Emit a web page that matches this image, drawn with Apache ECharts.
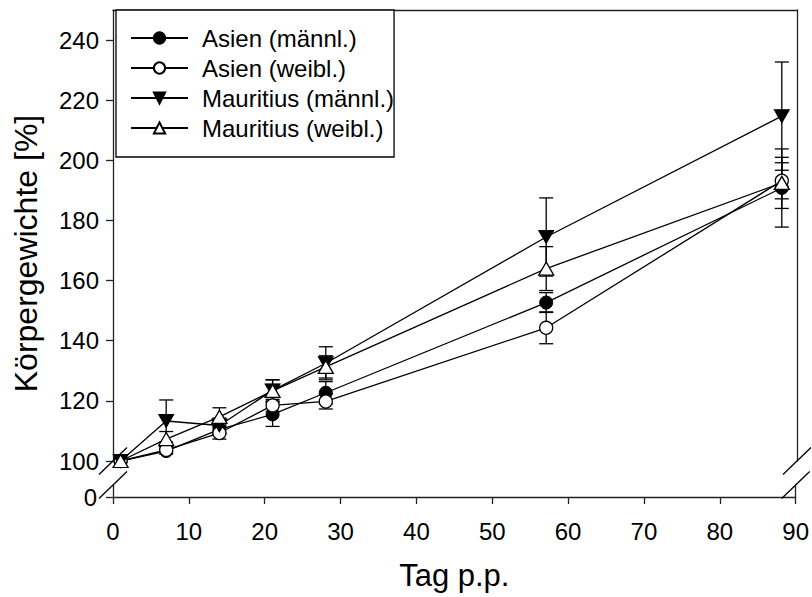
<!DOCTYPE html>
<html><head><meta charset="utf-8">
<script src="https://cdn.jsdelivr.net/npm/echarts@6/dist/echarts.min.js"></script>
<style>html,body{margin:0;padding:0;background:#fff}#c{width:812px;height:597px}</style>
</head><body><div id="c"></div>
<script>
// ---- data ----
const days = [1, 7, 14, 21, 28, 57, 88];
const seriesNames = ['Asien (männl.)', 'Asien (weibl.)', 'Mauritius (männl.)', 'Mauritius (weibl.)'];
const asienM    = [100, 103.3, 110.5, 115.5, 122.7, 152.7, 190.8];
const asienMErr = [0, 1, 1.5, 4, 3.7, 3.3, 13];
const asienW    = [100, 103.7, 109.3, 118.5, 119.8, 144.3, 193.2];
const asienWErr = [0, 1, 2, 2, 2.5, 5.3, 6];
const mauM      = [100, 113.3, 111.8, 123.5, 132.5, 174.5, 214.7];
const mauMErr   = [0, 7, 2.5, 3.5, 5.5, 13, 18];
const mauW      = [100, 107.3, 114.7, 123.3, 131.3, 164, 192.5];
const mauWErr   = [0, 2.5, 3, 3.7, 3.7, 7.3, 8.5];
const yTicksUpper = [100, 120, 140, 160, 180, 200, 220, 240];
const yTicksLower = [0];
const xTitle = 'Tag p.p.';
const yTitle = 'Körpergewichte [%]';

// ---- chart ----
const FONT = '"Liberation Sans", Arial, sans-serif';
const AX = '#222';
const chart = echarts.init(document.getElementById('c'), null, {renderer: 'svg'});

function pts(vals) { return days.map((d, i) => [d, vals[i]]); }
function errData(vals, errs) { return days.map((d, i) => [d, vals[i] - errs[i], vals[i] + errs[i]]); }
function errRender(params, api) {
  const x = api.value(0), lo = api.value(1), hi = api.value(2);
  if (hi - lo < 0.01) return {type: 'group', children: []};
  const a = api.coord([x, lo]), b = api.coord([x, hi]);
  const hw = 7;
  const st = {stroke: '#000', lineWidth: 1.3, fill: null};
  return {type: 'group', children: [
    {type: 'line', shape: {x1: a[0], y1: a[1], x2: b[0], y2: b[1]}, style: st},
    {type: 'line', shape: {x1: a[0] - hw, y1: a[1], x2: a[0] + hw, y2: a[1]}, style: st},
    {type: 'line', shape: {x1: b[0] - hw, y1: b[1], x2: b[0] + hw, y2: b[1]}, style: st}
  ]};
}
const DOWN = 'path://M0,0 L10,0 L5,9 Z';
const lineBase = {type: 'line', xAxisIndex: 0, yAxisIndex: 0, z: 5,
  lineStyle: {color: '#000', width: 1.3}, animation: false};

const series = [
  Object.assign({}, lineBase, {name: seriesNames[0], data: pts(asienM), symbol: 'circle', symbolSize: 13,
    itemStyle: {color: '#000', borderColor: '#000', borderWidth: 1}}),
  Object.assign({}, lineBase, {name: seriesNames[1], data: pts(asienW), symbol: 'circle', symbolSize: 13,
    itemStyle: {color: '#fff', borderColor: '#000', borderWidth: 1.3}}),
  Object.assign({}, lineBase, {name: seriesNames[2], data: pts(mauM), symbol: DOWN, symbolSize: [15, 13],
    itemStyle: {color: '#000', borderColor: '#000', borderWidth: 1}}),
  Object.assign({}, lineBase, {name: seriesNames[3], data: pts(mauW), symbol: 'triangle', symbolSize: [15, 13],
    itemStyle: {color: '#fff', borderColor: '#000', borderWidth: 1.3}}),
];
[[asienM, asienMErr], [asienW, asienWErr], [mauM, mauMErr], [mauW, mauWErr]].forEach(([v, e]) => {
  series.push({type: 'custom', xAxisIndex: 0, yAxisIndex: 0, z: 3, renderItem: errRender,
    data: errData(v, e), encode: {x: 0, y: [1, 2]}, animation: false, silent: true});
});

const lineOnly = {show: true, lineStyle: {color: AX, width: 1.3}};
const option = {
  animation: false,
  backgroundColor: '#fff',
  textStyle: {fontFamily: FONT},
  grid: [
    {left: 113, right: 15, top: 10, bottom: 136},
    {left: 113, right: 15, top: 485, bottom: 100}
  ],
  xAxis: [
    {gridIndex: 0, type: 'value', min: 0, max: 90, position: 'top', axisLine: lineOnly,
      axisTick: {show: false}, axisLabel: {show: false}, splitLine: {show: false}},
    {gridIndex: 1, type: 'value', min: 0, max: 90, interval: 10, position: 'bottom', axisLine: lineOnly,
      axisTick: {show: true, inside: false, length: 7, lineStyle: {color: AX, width: 1.3}},
      axisLabel: {fontSize: 24, color: '#000', fontFamily: FONT, margin: 22},
      splitLine: {show: false},
      name: xTitle, nameLocation: 'middle', nameGap: 63,
      nameTextStyle: {fontSize: 31, color: '#000', fontFamily: FONT}}
  ],
  yAxis: [
    {gridIndex: 0, type: 'value', min: 100, max: 250, position: 'left', axisLine: lineOnly,
      axisTick: {show: true, inside: false, length: 7, customValues: yTicksUpper, lineStyle: {color: AX, width: 1.3}},
      axisLabel: {fontSize: 24, color: '#000', fontFamily: FONT, margin: 14, customValues: yTicksUpper},
      splitLine: {show: false}},
    {gridIndex: 0, type: 'value', min: 100, max: 250, position: 'right', axisLine: lineOnly,
      axisTick: {show: false}, axisLabel: {show: false}, splitLine: {show: false}},
    {gridIndex: 1, type: 'value', min: 0, max: 4, position: 'left', axisLine: lineOnly,
      axisTick: {show: true, inside: false, length: 7, customValues: yTicksLower, lineStyle: {color: AX, width: 1.3}},
      axisLabel: {fontSize: 24, color: '#000', fontFamily: FONT, margin: 16, customValues: yTicksLower},
      splitLine: {show: false}},
    {gridIndex: 1, type: 'value', min: 0, max: 4, position: 'right', axisLine: lineOnly,
      axisTick: {show: false}, axisLabel: {show: false}, splitLine: {show: false}}
  ],
  legend: {
    data: seriesNames, orient: 'vertical', left: 116, top: 10,
    padding: [16, 0, 17, 14], itemGap: 6, itemWidth: 57, itemHeight: 14,
    borderColor: '#000', borderWidth: 1.3, backgroundColor: '#fff',
    textStyle: {fontSize: 24, fontFamily: FONT, color: '#000', lineHeight: 24, padding: [0, 0, 0, 9]}
  },
  series: series
};
chart.setOption(option);

// axis-break marks and y title, positioned from the axes
const pUL = chart.convertToPixel({gridIndex: 0}, [0, 100]);
const pUR = chart.convertToPixel({gridIndex: 0}, [90, 100]);
const pLL = chart.convertToPixel({gridIndex: 1}, [0, 4]);
const pLR = chart.convertToPixel({gridIndex: 1}, [90, 4]);
const pTop = chart.convertToPixel({gridIndex: 0}, [0, 250]);
const pBot = chart.convertToPixel({gridIndex: 1}, [0, 0]);
function diag(p) {
  return {type: 'line', shape: {x1: p[0] - 14, y1: p[1] + 13.5, x2: p[0] + 14, y2: p[1] - 13.5},
    style: {stroke: '#000', lineWidth: 1.3}, z: 10};
}
chart.setOption({graphic: [
  diag(pUL), diag(pUR), diag(pLL), diag(pLR),
  {type: 'text', x: 26, y: (pTop[1] + pBot[1]) / 2, rotation: Math.PI / 2,
    style: {text: yTitle, font: '32px ' + FONT, fill: '#000', align: 'center', verticalAlign: 'middle'}}
]});
</script>
</body></html>
